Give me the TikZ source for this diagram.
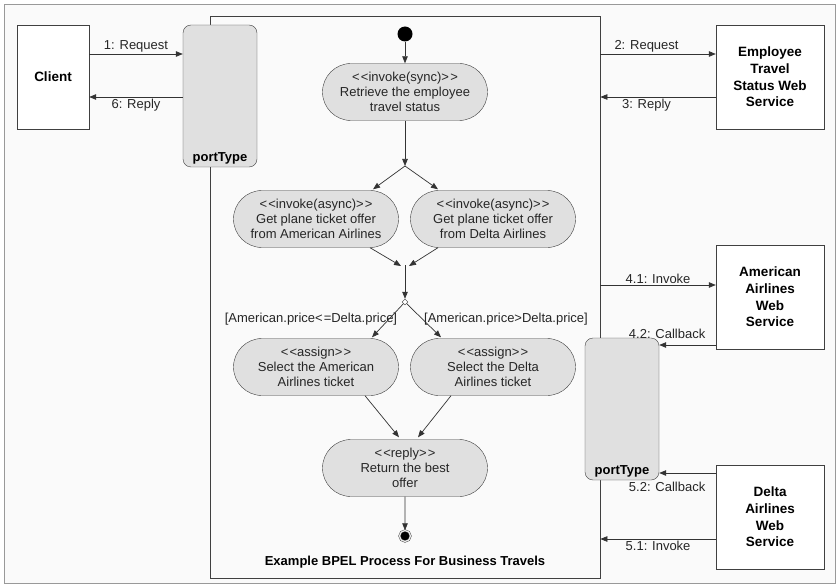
\documentclass[tikz,border=0pt]{standalone}
\usepackage{fontspec}
\setmainfont{Liberation Sans}
\usetikzlibrary{shapes.misc,shapes.geometric,arrows.meta,calc}

\newcommand{\stlt}{{<}\kern1.2pt{<}}
\newcommand{\stgt}{{>}\kern1.2pt{>}}

\begin{document}
\begin{tikzpicture}[x=1pt, y=-1pt, >={Triangle[length=7pt,width=5.5pt]},
  act/.style={draw=black!75, fill=black!12, rounded rectangle, minimum width=165pt,
    minimum height=57pt, inner sep=0pt, align=center, text=black!85,
    font=\fontsize{13}{15}\selectfont},
  wsbox/.style={draw=black!75, fill=white, minimum height=104pt, align=center,
    font=\fontsize{13.5}{16.7}\selectfont\bfseries},
  port/.style={draw=black!75, fill=black!12, rounded corners=8pt,
    minimum width=74pt, minimum height=142pt},
  ptxt/.style={anchor=south, inner sep=3pt, font=\fontsize{13}{15}\selectfont\bfseries},
  lbl/.style={inner sep=1.5pt, text=black!85, font=\fontsize{13}{15}\selectfont},
  line/.style={draw=black!80, line width=0.7pt}]

  % page and frame
  \fill[white] (0,0) rectangle (840,588);
  \draw[black!40, fill=black!2] (4.5,4.5) rectangle (835.5,583.5);
  \node[draw=black!75, line width=0.7pt, minimum width=390pt, minimum height=562pt] (proc) at (405,297) {};

  % partners
  \node[wsbox, minimum width=72pt] (client) at (53,77) {Client};
  \node[wsbox, minimum width=108pt] (ets) at (770,77) {Employee\\Travel\\Status Web\\Service};
  \node[wsbox, minimum width=108pt] (aa) at (770,297) {American\\Airlines\\Web\\Service};
  \node[wsbox, minimum width=108pt] (dl) at (770,517) {Delta\\Airlines\\Web\\Service};

  \node[port] (portL) at (220,96) {};
  \node[ptxt] (ptL) at (portL.south) {portType};
  \node[port] (portR) at (622,409) {};
  \node[ptxt] (ptR) at (portR.south) {portType};

  % activities
  \node[circle, fill=black, minimum size=15pt, inner sep=0pt] (start) at (405,34) {};
  \node[act] (n1) at (405,92) {\stlt invoke(sync)\stgt\\Retrieve the employee\\travel status};
  \node[act] (n2) at (316,219) {\stlt invoke(async)\stgt\\Get plane ticket offer\\from American Airlines};
  \node[act] (n3) at (493,219) {\stlt invoke(async)\stgt\\Get plane ticket offer\\from Delta Airlines};
  \node[act] (n4) at (316,367) {\stlt assign\stgt\\Select the American\\Airlines ticket};
  \node[act] (n5) at (493,367) {\stlt assign\stgt\\Select the Delta\\Airlines ticket};
  \node[act] (n6) at (405,468) {\stlt reply\stgt\\Return the best\\offer};
  \node[circle, fill=black, draw=black!80, minimum size=11pt, inner sep=0pt,
    double=black!8, double distance=1.3pt] (stop) at (405,536) {};
  \node[diamond, draw=black!80, fill=white, minimum size=6pt, inner sep=0pt] (dec) at (405,302) {};

  \coordinate (fork) at (405,166);
  \coordinate (join) at (405,265);
  \coordinate (joinL) at (401,266);
  \coordinate (joinR) at (409,266);

  \node[lbl] (g1) at (311,319) {[American.price{<}\kern1pt{=}Delta.price]};
  \node[lbl] (g2) at (506,319) {[American.price{>}Delta.price]};
  \node[font=\fontsize{13}{15}\selectfont\bfseries] (ttl) at (405,562) {Example BPEL Process For Business Travels};

  % control flow
  \draw[line, ->] (start) -- (n1);
  \draw[line, ->] (n1) -- (fork);
  \draw[line, ->] (fork) -- ($(n2.north)+(57,-1)$);
  \draw[line, ->] (fork) -- ($(n3.north)+(-55,-1)$);
  \draw[line, ->] ($(n2.south)+(54,0)$) -- (joinL);
  \draw[line, ->] ($(n3.south)+(-55,0)$) -- (joinR);
  \draw[line, ->] (join) -- (dec);
  \draw[line, ->] (dec) -- ($(n4.north)+(56,-1)$);
  \draw[line, ->] (dec) -- ($(n5.north)+(-52,-1)$);
  \draw[line, ->] ($(n4.south)+(49,0)$) -- ($(n6.north)+(-6,-2)$);
  \draw[line, ->] ($(n5.south)+(-42,0)$) -- ($(n6.north)+(13,-2)$);
  \draw[line, ->] (n6) -- (stop);

  % messages
  \draw[line, ->] ([yshift=23pt]client.east) -- ([yshift=23pt]client.east -| portL.west)
    node[lbl, above, midway] {1: Request};
  \draw[line, ->] ([yshift=-20pt]client.east -| portL.west) -- ([yshift=-20pt]client.east)
    node[lbl, below, midway] {6: Reply};
  \draw[line, ->] ([yshift=23pt]ets.west -| proc.east) -- ([yshift=23pt]ets.west)
    node[lbl, above, pos=0.4] {2: Request};
  \draw[line, ->] ([yshift=-20pt]ets.west) -- ([yshift=-20pt]ets.west -| proc.east)
    node[lbl, below, pos=0.6] {3: Reply};
  \draw[line, ->] ([yshift=12pt]aa.west -| proc.east) -- ([yshift=12pt]aa.west)
    node[lbl, above, pos=0.5] {4.1: Invoke};
  \draw[line, ->] ([yshift=-48pt]aa.west) -- ([yshift=-48pt]aa.west -| portR.east)
    node[lbl, above, pos=0.86, inner sep=6pt] {4.2: Callback};
  \draw[line, ->] ([yshift=44pt]dl.west) -- ([yshift=44pt]dl.west -| portR.east)
    node[lbl, below, pos=0.86, inner sep=9pt] {5.2: Callback};
  \draw[line, ->] ([yshift=-22pt]dl.west) -- ([yshift=-22pt]dl.west -| proc.east)
    node[lbl, below, pos=0.5] {5.1: Invoke};
\end{tikzpicture}
\end{document}
